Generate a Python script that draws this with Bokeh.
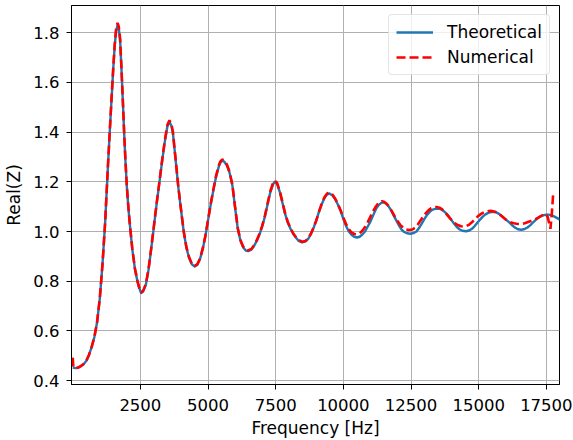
from bokeh.plotting import figure
from bokeh.models import Range1d, FixedTicker, NumeralTickFormatter
from bokeh.embed import file_html
from bokeh.resources import INLINE

freq_theo = [0, 100, 200, 300, 400, 500, 600, 700, 800, 900, 1000, 1100, 1200, 1300, 1400, 1500, 1550, 1600, 1655, 1700,
             1750, 1800, 1850, 1900, 1950, 2000, 2050, 2100, 2200, 2300, 2400, 2450, 2527, 2600, 2700, 2800, 2900, 3000,
             3100, 3200, 3300, 3400, 3500, 3573, 3650, 3700, 3800, 3900, 4000, 4100, 4200, 4300, 4400, 4507, 4600, 4700,
             4800, 4900, 5000, 5100, 5200, 5300, 5400, 5450, 5520, 5600, 5700, 5800, 5900, 6000, 6100, 6200, 6300, 6400,
             6480, 6600, 6700, 6800, 6900, 7000, 7100, 7200, 7300, 7400, 7460, 7550, 7650, 7750, 7850, 7950, 8050, 8150,
             8250, 8350, 8475, 8600, 8700, 8800, 8900, 9000, 9100, 9200, 9300, 9400, 9484, 9600, 9700, 9800, 9900, 10000,
             10100, 10200, 10300, 10400, 10508, 10600, 10700, 10800, 10900, 11000, 11100, 11200, 11300, 11400, 11468,
             11550, 11650, 11750, 11850, 11950, 12050, 12150, 12250, 12350, 12477, 12600, 12700, 12800, 12900, 13000,
             13100, 13200, 13300, 13400, 13500, 13600, 13700, 13800, 13900, 14000, 14100, 14200, 14300, 14400, 14534,
             14650, 14750, 14850, 14950, 15050, 15150, 15250, 15350, 15450, 15555, 15650, 15750, 15850, 15950, 16050,
             16150, 16250, 16350, 16450, 16578, 16700, 16800, 16900, 17000, 17100, 17200, 17300, 17400, 17500, 17587,
             17700, 17800, 17900, 18000]
real_theo = [0.452, 0.450, 0.452, 0.458, 0.466, 0.479, 0.503, 0.535, 0.575, 0.635, 0.730, 0.868, 1.040, 1.260, 1.465,
             1.660, 1.745, 1.805, 1.830, 1.818, 1.772, 1.657, 1.530, 1.397, 1.280, 1.180, 1.105, 1.040, 0.930, 0.848,
             0.795, 0.775, 0.752, 0.758, 0.785, 0.845, 0.930, 1.020, 1.110, 1.195, 1.280, 1.360, 1.425, 1.442, 1.425,
             1.398, 1.290, 1.180, 1.088, 1.000, 0.935, 0.893, 0.868, 0.859, 0.865, 0.888, 0.928, 0.980, 1.045, 1.110,
             1.168, 1.222, 1.262, 1.276, 1.285, 1.281, 1.265, 1.235, 1.185, 1.095, 1.010, 0.962, 0.936, 0.923, 0.921,
             0.927, 0.942, 0.962, 0.988, 1.020, 1.060, 1.110, 1.158, 1.190, 1.200, 1.192, 1.160, 1.115, 1.070, 1.035,
             1.010, 0.990, 0.975, 0.962, 0.956, 0.960, 0.970, 0.990, 1.015, 1.045, 1.080, 1.110, 1.135, 1.150, 1.153,
             1.145, 1.130, 1.108, 1.082, 1.050, 1.022, 1.000, 0.987, 0.979, 0.976, 0.979, 0.988, 1.000, 1.020, 1.040,
             1.065, 1.090, 1.106, 1.115, 1.117, 1.114, 1.104, 1.088, 1.066, 1.046, 1.025, 1.008, 0.998, 0.993, 0.991,
             0.994, 1.000, 1.015, 1.033, 1.052, 1.068, 1.080, 1.088, 1.091, 1.092, 1.090, 1.083, 1.073, 1.060, 1.045,
             1.030, 1.017, 1.008, 1.003, 1.001, 1.004, 1.011, 1.022, 1.035, 1.048, 1.060, 1.069, 1.075, 1.078, 1.079,
             1.077, 1.071, 1.063, 1.053, 1.044, 1.035, 1.024, 1.015, 1.009, 1.007, 1.010, 1.016, 1.025, 1.036, 1.046,
             1.055, 1.062, 1.066, 1.068, 1.068, 1.065, 1.060, 1.054, 1.048]

freq_num = [0, 25, 100, 200, 300, 400, 500, 600, 700, 800, 900, 1000, 1100, 1200, 1300, 1400, 1500, 1550, 1600, 1655,
            1700, 1750, 1800, 1850, 1900, 1950, 2000, 2050, 2100, 2200, 2300, 2400, 2450, 2527, 2600, 2700, 2800, 2900,
            3000, 3100, 3200, 3300, 3400, 3500, 3573, 3650, 3700, 3800, 3900, 4000, 4100, 4200, 4300, 4400, 4507, 4600,
            4700, 4800, 4900, 5000, 5100, 5200, 5300, 5400, 5450, 5520, 5600, 5700, 5800, 5900, 6000, 6100, 6200, 6300,
            6400, 6480, 6600, 6700, 6800, 6900, 7000, 7100, 7200, 7300, 7400, 7460, 7550, 7650, 7750, 7850, 7950, 8050,
            8150, 8250, 8350, 8475, 8600, 8700, 8800, 8900, 9000, 9100, 9200, 9300, 9400, 9470, 9600, 9700, 9800, 9900,
            10000, 10100, 10200, 10300, 10400, 10480, 10600, 10700, 10800, 10900, 11000, 11100, 11200, 11300, 11420,
            11500, 11600, 11700, 11800, 11900, 12000, 12100, 12200, 12300, 12420, 12550, 12650, 12750, 12850, 12950,
            13050, 13150, 13250, 13350, 13440, 13550, 13650, 13750, 13850, 13950, 14050, 14150, 14250, 14350, 14440,
            14550, 14650, 14750, 14850, 14950, 15050, 15150, 15250, 15350, 15480, 15600, 15700, 15800, 15900, 16000,
            16100, 16200, 16300, 16400, 16544, 16700, 16800, 16900, 17000, 17100, 17200, 17300, 17400, 17466, 17550,
            17650, 17700, 17750]
real_num = [0.492, 0.452, 0.450, 0.452, 0.458, 0.466, 0.479, 0.503, 0.535, 0.575, 0.635, 0.730, 0.868, 1.040, 1.262,
            1.468, 1.664, 1.750, 1.812, 1.840, 1.826, 1.778, 1.660, 1.532, 1.399, 1.282, 1.182, 1.107, 1.042, 0.932,
            0.850, 0.797, 0.777, 0.755, 0.761, 0.788, 0.848, 0.933, 1.023, 1.113, 1.198, 1.284, 1.365, 1.430, 1.448,
            1.430, 1.402, 1.293, 1.182, 1.090, 1.002, 0.937, 0.896, 0.871, 0.862, 0.868, 0.890, 0.930, 0.982, 1.047,
            1.113, 1.171, 1.226, 1.267, 1.281, 1.290, 1.286, 1.269, 1.238, 1.188, 1.098, 1.013, 0.965, 0.939, 0.926,
            0.924, 0.930, 0.945, 0.965, 0.991, 1.023, 1.063, 1.113, 1.162, 1.195, 1.205, 1.196, 1.163, 1.118, 1.072,
            1.037, 1.012, 0.992, 0.977, 0.965, 0.959, 0.962, 0.972, 0.991, 1.016, 1.045, 1.080, 1.112, 1.138, 1.153,
            1.156, 1.148, 1.132, 1.110, 1.085, 1.055, 1.030, 1.010, 0.996, 0.990, 0.989, 0.993, 1.003, 1.018, 1.038,
            1.060, 1.082, 1.101, 1.115, 1.122, 1.120, 1.112, 1.098, 1.080, 1.060, 1.042, 1.027, 1.016, 1.009, 1.006,
            1.008, 1.015, 1.028, 1.044, 1.060, 1.074, 1.086, 1.094, 1.098, 1.099, 1.096, 1.089, 1.078, 1.065, 1.052,
            1.040, 1.031, 1.025, 1.021, 1.020, 1.022, 1.028, 1.037, 1.048, 1.059, 1.068, 1.075, 1.079, 1.082, 1.083,
            1.080, 1.074, 1.066, 1.057, 1.048, 1.041, 1.036, 1.033, 1.031, 1.030, 1.033, 1.037, 1.041, 1.045, 1.050,
            1.056, 1.062, 1.068, 1.071, 1.058, 1.011, 1.070, 1.149]

x_ticks = [2500, 5000, 7500, 10000, 12500, 15000, 17500]
y_ticks = [0.4, 0.6, 0.8, 1.0, 1.2, 1.4, 1.6, 1.8]

FONT = "DejaVu Sans"

p = figure(width=573, height=440, output_backend="svg", toolbar_location=None,
           x_range=Range1d(-45, 17985), y_range=Range1d(0.3841, 1.9099),
           min_border_left=71, min_border_right=14, min_border_top=5, min_border_bottom=56,
           background_fill_color="white", border_fill_color="white")
p.title.visible = False

p.line(freq_theo, real_theo, line_color="#1f77b4", line_width=2.4, line_join="round",
       legend_label="Theoretical")
p.line(freq_num, real_num, line_color="#ff0000", line_width=2.6, line_dash="9 4",
       legend_label="Numerical")

p.xaxis.ticker = FixedTicker(ticks=x_ticks)
p.yaxis.ticker = FixedTicker(ticks=y_ticks)
p.yaxis.formatter = NumeralTickFormatter(format="0.0")

p.grid.grid_line_color = "#b0b0b0"
p.grid.grid_line_width = 1

p.outline_line_color = "black"
p.outline_line_width = 1
p.outline_line_alpha = 1

for ax in (p.xaxis, p.yaxis):
    ax.axis_line_color = "black"
    ax.major_tick_line_color = "black"
    ax.minor_tick_line_color = None
    ax.major_tick_out = 5
    ax.major_tick_in = 0
    ax.major_label_text_font = FONT
    ax.major_label_text_font_size = "16.5px"
    ax.major_label_text_color = "black"
    ax.axis_label_text_font = FONT
    ax.axis_label_text_font_size = "17px"
    ax.axis_label_text_font_style = "normal"
    ax.axis_label_text_color = "black"

p.xaxis.axis_label = "Frequency [Hz]"
p.yaxis.axis_label = "Real(Z)"
p.xaxis.major_label_standoff = 9
p.xaxis.axis_label_standoff = 4
p.yaxis.major_label_standoff = 7
p.yaxis.axis_label_standoff = 6

lg = p.legend[0]
lg.location = "top_right"
lg.margin = 9
lg.padding = 7
lg.spacing = 5
lg.glyph_width = 37
lg.glyph_height = 20
lg.label_height = 20
lg.label_standoff = 14
lg.label_text_font = FONT
lg.label_text_font_size = "17px"
lg.label_text_color = "black"
lg.border_line_color = "#cccccc"
lg.border_line_width = 1
lg.background_fill_alpha = 0.8
if "border_radius" in lg.properties():
    lg.border_radius = 4

open("out.html", "w").write(file_html(p, INLINE))
